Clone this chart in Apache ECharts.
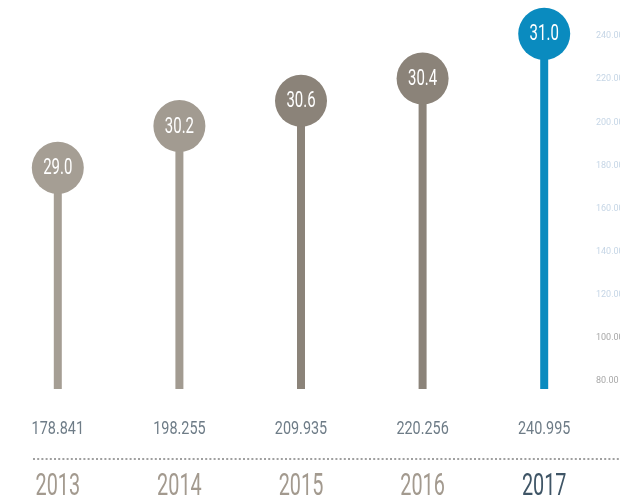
<!DOCTYPE html>
<html>
<head>
<meta charset="utf-8">
<script src="https://cdn.jsdelivr.net/npm/echarts@6/dist/echarts.min.js"></script>
<style>
html,body{margin:0;padding:0;background:#fff;}
#chart{width:620px;height:500px;}
</style>
</head>
<body>
<div id="chart"></div>
<script>
const years = ['2013', '2014', '2015', '2016', '2017'];
const values = [178.841, 198.255, 209.935, 220.256, 240.995];
const circleLabels = ['29.0', '30.2', '30.6', '30.4', '31.0'];
const colors = ['#a59e94', '#a29b91', '#8b8379', '#8b8379', '#0a8bbf'];
const yearColors = ['#a39a8f', '#a39a8f', '#a39a8f', '#a39a8f', '#3f5566'];
const yMin = 80, yMax = 240, yInterval = 20;

const FONT = "Roboto, 'Liberation Sans', sans-serif";

const chart = echarts.init(document.getElementById('chart'));

const seriesData = values.map((v, i) => [i, v]);

chart.setOption({
  animation: false,
  grid: { left: -3, right: 15, top: 36, bottom: 119, containLabel: false, outerBoundsMode: 'none' },
  xAxis: {
    type: 'category',
    data: years,
    axisLine: { show: false },
    axisTick: { show: false },
    splitLine: { show: false },
    axisLabel: { show: false }
  },
  yAxis: {
    type: 'value',
    position: 'right',
    min: yMin,
    max: yMax,
    interval: yInterval,
    axisLine: { show: false },
    axisTick: { show: false },
    splitLine: { show: false },
    axisLabel: {
      margin: -9,
      fontSize: 9,
      fontFamily: FONT,
      formatter: function (v) { return v.toFixed(2); },
      color: function (v) { return v <= 100 ? '#a8a8a8' : '#c6d6e6'; }
    }
  },
  graphic: [{
    type: 'line',
    shape: { x1: 33, y1: 459, x2: 620, y2: 459 },
    style: { stroke: '#a0a0a0', lineWidth: 2, lineDash: [2, 2.2] }
  }],
  series: [{
    type: 'custom',
    data: seriesData,
    clip: false,
    renderItem: function (params, api) {
      const idx = api.value(0);
      const top = api.coord([idx, api.value(1)]);
      const base = api.coord([idx, yMin]);
      const c = colors[idx];
      return {
        type: 'group',
        children: [
          { type: 'rect', shape: { x: top[0] - 4, y: top[1], width: 8, height: base[1] + 8 - top[1] }, style: { fill: c } },
          { type: 'circle', shape: { cx: top[0], cy: top[1], r: 26 }, style: { fill: c } },
          { type: 'text', x: top[0], y: top[1] + 1, scaleX: 0.68,
            style: { x: 0, y: 0, text: circleLabels[idx], align: 'center', verticalAlign: 'middle', fill: '#ffffff', fontSize: 22, fontFamily: FONT } },
          { type: 'text', x: base[0], y: base[1] + 48, scaleX: 0.8,
            style: { x: 0, y: 0, text: values[idx].toFixed(3), align: 'center', verticalAlign: 'middle', fill: '#6e7c87', fontSize: 18, fontFamily: FONT } },
          { type: 'text', x: base[0], y: base[1] + 106, scaleX: 0.62,
            style: { x: 0, y: 0, text: years[idx], align: 'center', verticalAlign: 'middle', fill: yearColors[idx], fontSize: 32, fontFamily: FONT } }
        ]
      };
    }
  }]
});
</script>
</body>
</html>
